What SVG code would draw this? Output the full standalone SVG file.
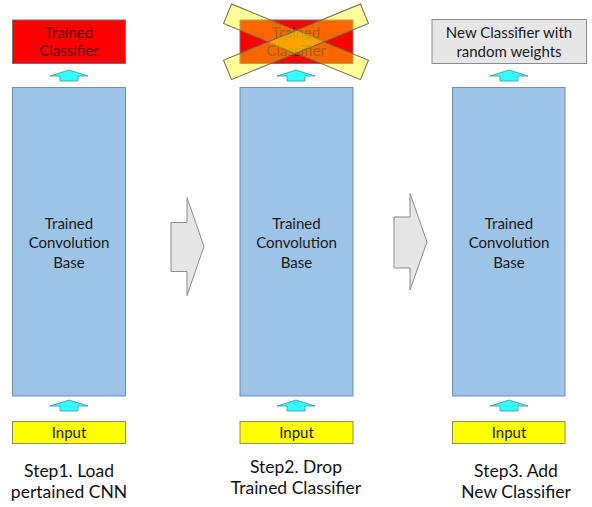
<svg xmlns="http://www.w3.org/2000/svg" width="592" height="507" viewBox="0 0 592 507">
<defs>
<style>
text{font-family:"Lato","Liberation Sans",sans-serif;text-anchor:middle}
.base{fill:#9DC3E6;stroke:#6F8FAF;stroke-width:1}
.cls{font-size:15px;fill:#5A0000}
.btxt{font-size:15px;fill:#1A1A1A}
.inp{fill:#FFFF00;stroke:#8C8C5A;stroke-width:1}
.itxt{font-size:15px;fill:#1A1A1A}
.step{font-size:17.5px;fill:#111}
.up{fill:#33FFFF;stroke:#3F8F9F;stroke-width:0.8}
.big{fill:#E7E6E6;stroke:#8A8A8A;stroke-width:1}
.xband{fill:#FFFF00;fill-opacity:0.4;stroke:#6E6E50;stroke-width:1}
</style>
<path id="uparrow" d="M0,0 L19,6 L9,6 L9,11 L-9,11 L-9,6 L-19,6 Z"/>
</defs>
<rect width="592" height="507" fill="#FFFFFF"/>

<g id="connectors">
<use href="#uparrow" class="up" x="69" y="70"/>
<use href="#uparrow" class="up" x="69" y="400"/>
<use href="#uparrow" class="up" x="296" y="70"/>
<use href="#uparrow" class="up" x="296" y="400"/>
<use href="#uparrow" class="up" x="509" y="70"/>
<use href="#uparrow" class="up" x="509" y="400"/>
<path class="big" d="M171,222.5 L187,222.5 L187,197.5 L204,246.5 L187,295.5 L187,271.5 L171,271.5 Z"/>
<path class="big" d="M394,217 L410,217 L410,193.5 L427,242 L410,290 L410,268 L394,268 Z"/>
</g>

<g id="classifier1">
<rect x="12.5" y="20" width="113" height="43.5" fill="#FF0000" stroke="#7F6F6F"/>
<text class="cls" x="69" y="37.5">Trained</text>
<text class="cls" x="69" y="56">Classifier</text>
</g>
<g id="base1">
<rect class="base" x="12.5" y="87.5" width="113" height="308.5"/>
<text class="btxt" x="69" y="228.5">Trained</text>
<text class="btxt" x="69" y="248">Convolution</text>
<text class="btxt" x="69" y="267.5">Base</text>
</g>
<g id="input1">
<rect class="inp" x="12.5" y="421.5" width="113" height="22"/>
<text class="itxt" x="69" y="438">Input</text>
</g>
<g id="step1">
<text class="step" x="69" y="476.5">Step1. Load</text>
<text class="step" x="69" y="497.5">pertained CNN</text>
</g>

<g id="classifier2">
<rect x="240" y="20" width="113" height="43.5" fill="#FF0000" stroke="#7F6F6F"/>
<text class="cls" x="296" y="37.5">Trained</text>
<text class="cls" x="296" y="56">Classifier</text>
<g transform="translate(296 41.8)">
<rect class="xband" x="-74" y="-10.5" width="148" height="21" transform="rotate(22.3)"/>
<rect class="xband" x="-74" y="-10.5" width="148" height="21" transform="rotate(-22.3)"/>
</g>
</g>
<g id="base2">
<rect class="base" x="240" y="87.5" width="113" height="308.5"/>
<text class="btxt" x="296.5" y="228.5">Trained</text>
<text class="btxt" x="296.5" y="248">Convolution</text>
<text class="btxt" x="296.5" y="267.5">Base</text>
</g>
<g id="input2">
<rect class="inp" x="240" y="421.5" width="113" height="22"/>
<text class="itxt" x="296.5" y="438">Input</text>
</g>
<g id="step2">
<text class="step" x="296" y="473">Step2. Drop</text>
<text class="step" x="296" y="494">Trained Classifier</text>
</g>

<g id="classifier3">
<rect x="432" y="19.5" width="154.5" height="44" fill="#E7E6E6" stroke="#8A8A8A"/>
<text class="btxt" x="509" y="37.5">New Classifier with</text>
<text class="btxt" x="509" y="57">random weights</text>
</g>
<g id="base3">
<rect class="base" x="452.5" y="87.5" width="112.5" height="308.5"/>
<text class="btxt" x="509" y="228.5">Trained</text>
<text class="btxt" x="509" y="248">Convolution</text>
<text class="btxt" x="509" y="267.5">Base</text>
</g>
<g id="input3">
<rect class="inp" x="452.5" y="421.5" width="112.5" height="22"/>
<text class="itxt" x="509" y="438">Input</text>
</g>
<g id="step3">
<text class="step" x="516" y="476.5">Step3. Add</text>
<text class="step" x="516" y="497.5">New Classifier</text>
</g>
</svg>
